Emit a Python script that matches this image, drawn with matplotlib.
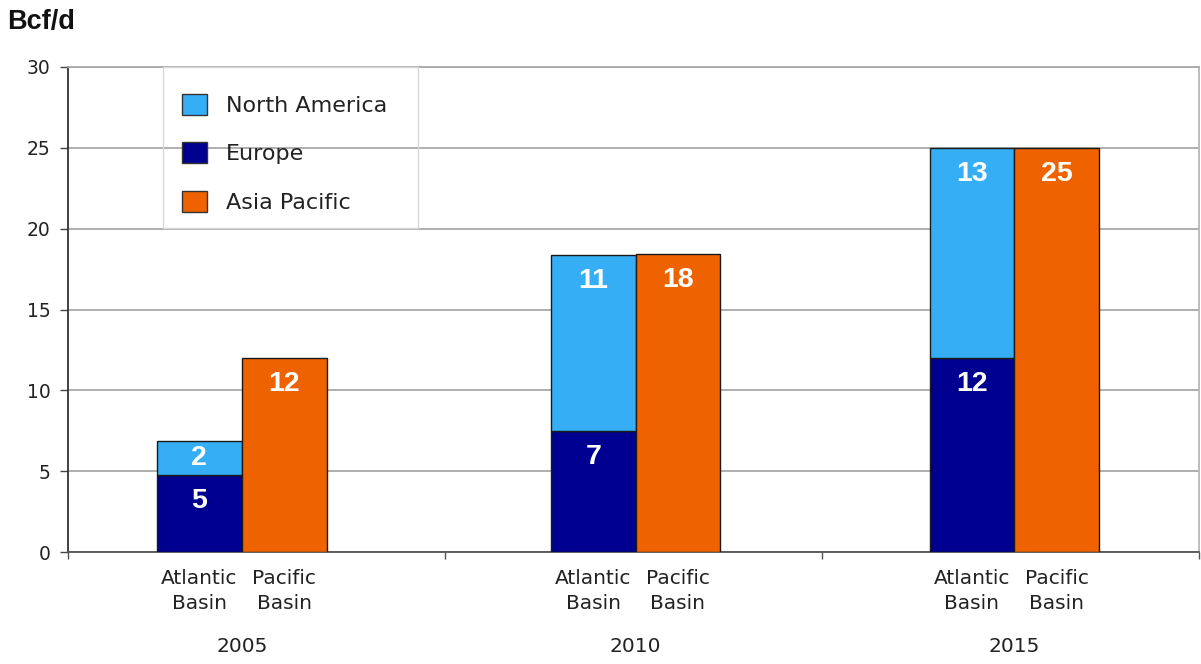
import matplotlib
matplotlib.use("Agg")
import matplotlib.pyplot as plt
from matplotlib.patches import Patch, Rectangle
import matplotlib.transforms as mtransforms
import numpy as np

# Data (Bcf/d)
years = ["2005", "2010", "2015"]
basins = ["Atlantic\nBasin", "Pacific\nBasin"]
europe = [4.8, 7.49, 12.0]          # Atlantic Basin, lower segment
north_america = [2.1, 10.9, 13.0]   # Atlantic Basin, upper segment
asia_pacific = [12.0, 18.4, 25.0]   # Pacific Basin
yticks = [0, 5, 10, 15, 20, 25, 30]

C_NA = "#36AEF6"
C_EU = "#000090"
C_AP = "#EE6300"

TEXT_FONT = ["DejaVu Sans"]
BOLD_FONT = ["Liberation Sans", "DejaVu Sans"]
plt.rcParams["font.family"] = TEXT_FONT

fig = plt.figure(figsize=(12.01, 6.64), dpi=100)
ax = fig.add_axes([0.0569, 0.1682, 0.9415, 0.7313])

n = len(years)
# small horizontal nudge of each bar pair inside its year slot
group_nudge = np.array([-0.04, 0.005, 0.01])
centers = np.arange(n) + 0.5 + group_nudge
bw = 0.225
x_atl = centers - bw / 2
x_pac = centers + bw / 2

edge = dict(edgecolor="#1a1a1a", linewidth=1.0)
ax.bar(x_atl, europe, bw, color=C_EU, zorder=3, **edge)
ax.bar(x_atl, north_america, bw, bottom=europe, color=C_NA, zorder=3, **edge)
ax.bar(x_pac, asia_pacific, bw, color=C_AP, zorder=3, **edge)

# Value labels just below the top of each segment
def put_label(x, bottom, h):
    top = bottom + h
    dy = min(1.6, h / 2)
    ax.text(x, top - dy, f"{h:.0f}", ha="center", va="center",
            color="white", fontsize=20.5, fontweight="bold",
            family=BOLD_FONT, zorder=5)

for i in range(n):
    put_label(x_atl[i], 0, europe[i])
    put_label(x_atl[i], europe[i], north_america[i])
    put_label(x_pac[i], 0, asia_pacific[i])

ax.set_xlim(0, n)
ax.set_ylim(0, 30)
ax.set_yticks(yticks)
ax.set_yticklabels([str(v) for v in yticks])
ax.set_xticks(np.arange(n + 1))
ax.set_xticklabels([])
ax.tick_params(axis="y", length=6, width=1.0, color="#444444", pad=7,
               labelsize=13.5, labelcolor="#222222")
ax.tick_params(axis="x", length=5, width=1.0, color="#555555")

ax.yaxis.grid(True, color="#A8A8A8", linewidth=1.3, zorder=0)
ax.set_axisbelow(True)

ax.spines["left"].set_color("#333333")
ax.spines["left"].set_linewidth(1.3)
ax.spines["bottom"].set_color("#555555")
ax.spines["bottom"].set_linewidth(1.3)
ax.spines["top"].set_color("#A8A8A8")
ax.spines["top"].set_linewidth(1.3)
ax.spines["right"].set_color("#B8B8B8")
ax.spines["right"].set_linewidth(1.3)

# Two-level category labels below the axis
trans = mtransforms.blended_transform_factory(ax.transData, fig.transFigure)
for i in range(n):
    for xb, lab in zip((x_atl[i], x_pac[i]), basins):
        ax.text(xb, 1 - 591 / 664, lab, transform=trans, ha="center",
                va="center", fontsize=14.5, color="#222222", linespacing=1.35)
    ax.text(centers[i], 1 - 647 / 664, years[i], transform=trans,
            ha="center", va="center", fontsize=14.5, color="#222222")

fig.text(7 / 1201, 1 - 22 / 664, "Bcf/d", ha="left", va="center",
         fontsize=19.5, fontweight="bold", family=BOLD_FONT, color="#111111")

# Legend: frameless entries inside a light grey box
ax.add_patch(Rectangle((0.0838, 0.6678), 0.3093 - 0.0838, 1 - 0.6678,
                       transform=ax.transAxes, facecolor="none",
                       edgecolor="#D8D8D8", linewidth=1.0, zorder=6,
                       clip_on=False))
handles = [Patch(facecolor=C_NA, edgecolor="#333333", linewidth=1.0),
           Patch(facecolor=C_EU, edgecolor="#333333", linewidth=1.0),
           Patch(facecolor=C_AP, edgecolor="#333333", linewidth=1.0)]
leg = ax.legend(handles, ["North America", "Europe", "Asia Pacific"],
                loc="upper left", bbox_to_anchor=(0.1006, 0.9438),
                borderaxespad=0, borderpad=0, fontsize=16, frameon=False,
                handlelength=1.12, handleheight=1.08, handletextpad=0.85,
                labelspacing=1.18)
for t in leg.get_texts():
    t.set_color("#222222")
leg.set_zorder(7)

fig.savefig("out.png", dpi=100)
